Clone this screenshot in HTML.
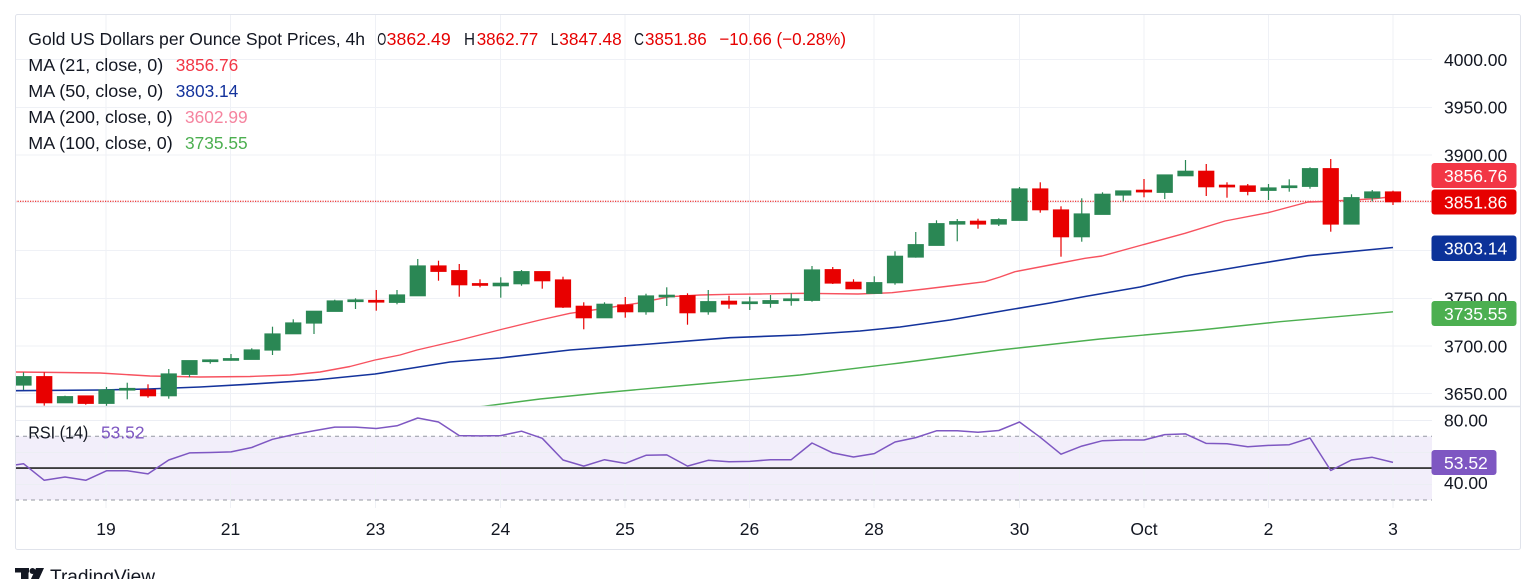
<!DOCTYPE html>
<html><head><meta charset="utf-8"><style>
html,body{margin:0;padding:0;background:#fff;width:1536px;height:579px;overflow:hidden}
svg{display:block}
text{font-family:"Liberation Sans",sans-serif;}
</style></head><body>
<svg xmlns="http://www.w3.org/2000/svg" width="1536" height="579" viewBox="0 0 1536 579">
<rect x="0" y="0" width="1536" height="579" fill="#fff"/>
<!-- horizontal grid main -->
<g stroke="#eff1f6" stroke-width="1">
<line x1="15" y1="59.5" x2="1432" y2="59.5"/><line x1="15" y1="107.5" x2="1432" y2="107.5"/>
<line x1="15" y1="155" x2="1432" y2="155"/><line x1="15" y1="202.5" x2="1432" y2="202.5"/>
<line x1="15" y1="250.5" x2="1432" y2="250.5"/><line x1="15" y1="298.5" x2="1432" y2="298.5"/>
<line x1="15" y1="346" x2="1432" y2="346"/><line x1="15" y1="393.5" x2="1432" y2="393.5"/>
</g>
<!-- RSI band -->
<rect x="15.5" y="436.3" width="1416.5" height="63.7" fill="#f2eefa"/>
<g stroke="#eceef4" stroke-width="1">
<line x1="15" y1="420.5" x2="1432" y2="420.5"/><line x1="15" y1="452.5" x2="1432" y2="452.5"/><line x1="15" y1="484.5" x2="1432" y2="484.5"/>
</g>
<!-- vertical grid -->
<g stroke="#eff1f6" stroke-width="1">
<line x1="106" y1="15" x2="106" y2="508"/><line x1="230.5" y1="15" x2="230.5" y2="508"/>
<line x1="375.5" y1="15" x2="375.5" y2="508"/><line x1="500.5" y1="15" x2="500.5" y2="508"/>
<line x1="625" y1="15" x2="625" y2="508"/><line x1="749.5" y1="15" x2="749.5" y2="508"/>
<line x1="874" y1="15" x2="874" y2="508"/><line x1="1019.5" y1="15" x2="1019.5" y2="508"/>
<line x1="1144" y1="15" x2="1144" y2="508"/><line x1="1268.5" y1="15" x2="1268.5" y2="508"/>
<line x1="1393" y1="15" x2="1393" y2="508"/>
</g>
<!-- RSI dashed / midline -->
<g stroke="#9598a1" stroke-width="1" stroke-dasharray="4 4">
<line x1="15" y1="436.3" x2="1432" y2="436.3"/><line x1="15" y1="500" x2="1432" y2="500"/>
</g>
<line x1="15" y1="468.1" x2="1432" y2="468.1" stroke="#222" stroke-width="1.6"/>
<polyline fill="none" stroke="#7e57c2" stroke-width="1.5" stroke-linejoin="round" points="15,465 23.5,463.7 44.25,480.3 65,477 85.75,480.3 106.5,470.8 127.25,470.8 148,473.9 168.75,460 189.5,452.9 210.25,452.5 231,451.9 251.75,447.5 272.5,439.3 293.25,434.6 314,430.8 334.75,427.1 355.5,427.1 376.25,428.5 397,425.8 417.75,418 438.5,422 459.25,435.6 480,435.9 500.75,435.6 521.5,431.2 542.25,438.3 563,460 583.75,466.1 604.5,459.7 625.25,463.4 646,455.3 666.75,454.9 687.5,466.1 708.25,460.3 729,461.7 749.75,461.4 770.5,459.7 791.25,459.7 812,443 832.75,452.9 853.5,457 874.25,453.6 895,442 915.75,437.6 936.5,430.8 957.25,430.8 978,432.2 998.75,430.5 1019.5,422 1040.25,437.3 1061,454.2 1081.75,446.1 1102.5,440.7 1123.25,440 1144,440 1164.75,434.6 1185.5,433.9 1206.25,443.4 1227,443.7 1247.75,446.8 1268.5,445.4 1289.25,444.7 1310,438 1330.75,470.5 1351.5,460 1372.25,457.3 1393,462.4"/>

<defs><clipPath id="mp"><rect x="15" y="15" width="1417" height="391"/></clipPath></defs>
<g clip-path="url(#mp)">
<!-- close dotted line -->
<line x1="15" y1="201.3" x2="1432" y2="201.3" stroke="#e60000" stroke-width="1" stroke-dasharray="1.2 1.3"/>
<!-- MA100 -->
<polyline fill="none" stroke="#4caf50" stroke-width="1.4" points="478,407 540,399 600,393 700,384 800,375 900,363 1000,350 1100,339 1200,330 1280,321.7 1393,311.8"/>
<!-- MA50 -->
<polyline fill="none" stroke="#14339c" stroke-width="1.6" stroke-linejoin="round" points="15,390.7 100,390 148,389 200,387 248,384.3 315,380 375,374 400,370 450,362 500,358 570,350 650,344 730,337.7 800,335 860,331 900,327 950,320 1008,310 1050,303 1085,296.5 1140,287 1185,276 1250,265 1308,255.7 1393,247.5"/>
<!-- MA21 -->
<polyline fill="none" stroke="#f7525f" stroke-width="1.4" stroke-linejoin="round" points="15,372 60,372.5 100,373 150,376 200,377 250,376.5 290,375 320,372 350,366.5 375,360 400,355 417,350 460,340 503,329 540,320 570,313.3 600,309 637,303.3 670,296.7 700,295 730,294.3 760,294 802,293.3 858,294 892,292.7 925,289 958,285 985,281.7 1000,277 1015,271.7 1050,265 1085,258.3 1102,256 1142,245 1185,233.3 1225,221 1268,212.7 1308,202 1328,201.3 1352,200 1375,198.7 1393,196.5"/>
<!-- green candles -->
<g fill="#2a8754" stroke="#2a8754" stroke-width="1.2">
<line x1="23.5" y1="372.3" x2="23.5" y2="390"/><rect x="16" y="376.7" width="15" height="8.3"/>
<line x1="65" y1="395.7" x2="65" y2="403"/><rect x="57.5" y="396.7" width="15" height="6"/>
<line x1="106.5" y1="387" x2="106.5" y2="406"/><rect x="99" y="390" width="15" height="13.3"/>
<line x1="127.25" y1="382.7" x2="127.25" y2="399.3"/><rect x="119.75" y="388.5" width="15" height="1.5"/>
<line x1="168.75" y1="369" x2="168.75" y2="398.7"/><rect x="161.25" y="374" width="15" height="21.7"/>
<line x1="189.5" y1="360.7" x2="189.5" y2="377.3"/><rect x="182" y="360.7" width="15" height="13.6"/>
<line x1="210.25" y1="359.3" x2="210.25" y2="363.7"/><rect x="202.75" y="360" width="15" height="1.5"/>
<line x1="231" y1="354" x2="231" y2="360.7"/><rect x="223.5" y="358.7" width="15" height="1.5"/>
<line x1="251.75" y1="348.3" x2="251.75" y2="359.3"/><rect x="244.25" y="350" width="15" height="9.3"/>
<line x1="272.5" y1="326.7" x2="272.5" y2="355"/><rect x="265" y="334" width="15" height="16"/>
<line x1="293.25" y1="319.3" x2="293.25" y2="333.7"/><rect x="285.75" y="323" width="15" height="10.7"/>
<line x1="314" y1="311.3" x2="314" y2="334"/><rect x="306.5" y="311.3" width="15" height="11.7"/>
<line x1="334.75" y1="299.7" x2="334.75" y2="311.3"/><rect x="327.25" y="301" width="15" height="10.3"/>
<line x1="355.5" y1="298.3" x2="355.5" y2="309"/><rect x="348" y="300" width="15" height="1.5"/>
<line x1="397" y1="290" x2="397" y2="304.3"/><rect x="389.5" y="295" width="15" height="7.3"/>
<line x1="417.75" y1="259" x2="417.75" y2="295.7"/><rect x="410.25" y="266" width="15" height="29.7"/>
<line x1="500.75" y1="277.3" x2="500.75" y2="297.7"/><rect x="493.25" y="283.3" width="15" height="2.4"/>
<line x1="521.5" y1="270" x2="521.5" y2="285.7"/><rect x="514" y="271.7" width="15" height="12"/>
<line x1="604.5" y1="302.3" x2="604.5" y2="317.7"/><rect x="597" y="304.3" width="15" height="13.4"/>
<line x1="646" y1="293.7" x2="646" y2="314.7"/><rect x="638.5" y="296" width="15" height="15.7"/>
<line x1="666.75" y1="287.3" x2="666.75" y2="306"/><rect x="659.25" y="295.3" width="15" height="1.5"/>
<line x1="708.25" y1="290" x2="708.25" y2="314.7"/><rect x="700.75" y="301.7" width="15" height="10"/>
<line x1="749.75" y1="296.7" x2="749.75" y2="310"/><rect x="742.25" y="302" width="15" height="1.5"/>
<line x1="770.5" y1="295" x2="770.5" y2="307.7"/><rect x="763" y="300.7" width="15" height="2.6"/>
<line x1="791.25" y1="293.3" x2="791.25" y2="305.7"/><rect x="783.75" y="299" width="15" height="1.5"/>
<line x1="812" y1="266" x2="812" y2="301.7"/><rect x="804.5" y="270" width="15" height="30.3"/>
<line x1="874.25" y1="276.3" x2="874.25" y2="294"/><rect x="866.75" y="282.7" width="15" height="10.6"/>
<line x1="895" y1="251.3" x2="895" y2="284.7"/><rect x="887.5" y="256.3" width="15" height="26.4"/>
<line x1="915.75" y1="232" x2="915.75" y2="257.7"/><rect x="908.25" y="244.7" width="15" height="12.3"/>
<line x1="936.5" y1="220.3" x2="936.5" y2="245.3"/><rect x="929" y="223.7" width="15" height="21.6"/>
<line x1="957.25" y1="219" x2="957.25" y2="241.3"/><rect x="949.75" y="221.7" width="15" height="2.3"/>
<line x1="998.75" y1="218.3" x2="998.75" y2="226"/><rect x="991.25" y="219.7" width="15" height="4.3"/>
<line x1="1019.5" y1="187" x2="1019.5" y2="220.3"/><rect x="1012" y="189" width="15" height="31.3"/>
<line x1="1081.75" y1="198.3" x2="1081.75" y2="241.7"/><rect x="1074.25" y="214" width="15" height="22.7"/>
<line x1="1102.5" y1="192.3" x2="1102.5" y2="214.3"/><rect x="1095" y="194.3" width="15" height="20"/>
<line x1="1123.25" y1="191" x2="1123.25" y2="201.3"/><rect x="1115.75" y="191" width="15" height="4"/>
<line x1="1164.75" y1="175" x2="1164.75" y2="199"/><rect x="1157.25" y="175" width="15" height="17.3"/>
<line x1="1185.5" y1="160" x2="1185.5" y2="175.7"/><rect x="1178" y="171.3" width="15" height="4.4"/>
<line x1="1268.5" y1="184" x2="1268.5" y2="200"/><rect x="1261" y="188" width="15" height="2.3"/>
<line x1="1289.25" y1="179.3" x2="1289.25" y2="191.7"/><rect x="1281.75" y="186" width="15" height="1.5"/>
<line x1="1310" y1="167.3" x2="1310" y2="188.7"/><rect x="1302.5" y="168.7" width="15" height="17.6"/>
<line x1="1351.5" y1="194.3" x2="1351.5" y2="224"/><rect x="1344" y="197.7" width="15" height="26.3"/>
<line x1="1372.25" y1="190" x2="1372.25" y2="201.3"/><rect x="1364.75" y="192" width="15" height="5.7"/>
</g>
<!-- red candles -->
<g fill="#e80000" stroke="#e80000" stroke-width="1.2">
<line x1="44.25" y1="372.3" x2="44.25" y2="405.7"/><rect x="36.75" y="376.7" width="15" height="26"/>
<line x1="85.75" y1="396" x2="85.75" y2="404.7"/><rect x="78.25" y="396" width="15" height="7.3"/>
<line x1="148" y1="384.3" x2="148" y2="397.7"/><rect x="140.5" y="390" width="15" height="5.7"/>
<line x1="376.25" y1="290" x2="376.25" y2="310.7"/><rect x="368.75" y="300.5" width="15" height="1.5"/>
<line x1="438.5" y1="260.7" x2="438.5" y2="280.7"/><rect x="431" y="266" width="15" height="5.3"/>
<line x1="459.25" y1="264" x2="459.25" y2="296.7"/><rect x="451.75" y="270.7" width="15" height="14"/>
<line x1="480" y1="279.3" x2="480" y2="287.3"/><rect x="472.5" y="283.7" width="15" height="1.5"/>
<line x1="542.25" y1="271.7" x2="542.25" y2="288.7"/><rect x="534.75" y="271.7" width="15" height="9"/>
<line x1="563" y1="276.7" x2="563" y2="308"/><rect x="555.5" y="280" width="15" height="27"/>
<line x1="583.75" y1="302.3" x2="583.75" y2="329.3"/><rect x="576.25" y="306.3" width="15" height="11.4"/>
<line x1="625.25" y1="297" x2="625.25" y2="317.7"/><rect x="617.75" y="305" width="15" height="6.7"/>
<line x1="687.5" y1="293.3" x2="687.5" y2="324.7"/><rect x="680" y="295.7" width="15" height="17"/>
<line x1="729" y1="295.7" x2="729" y2="308.7"/><rect x="721.5" y="301.3" width="15" height="2.7"/>
<line x1="832.75" y1="267" x2="832.75" y2="284"/><rect x="825.25" y="269.7" width="15" height="13.3"/>
<line x1="853.5" y1="279.3" x2="853.5" y2="288.7"/><rect x="846" y="282.3" width="15" height="6.4"/>
<line x1="978" y1="218.7" x2="978" y2="228.7"/><rect x="970.5" y="221.3" width="15" height="2.7"/>
<line x1="1040.25" y1="182.3" x2="1040.25" y2="212.7"/><rect x="1032.75" y="189" width="15" height="20.7"/>
<line x1="1061" y1="206.3" x2="1061" y2="256.7"/><rect x="1053.5" y="210" width="15" height="26.7"/>
<line x1="1144" y1="179" x2="1144" y2="197.3"/><rect x="1136.5" y="190.3" width="15" height="1.5"/>
<line x1="1206.25" y1="164" x2="1206.25" y2="196"/><rect x="1198.75" y="171.3" width="15" height="15.4"/>
<line x1="1227" y1="182.3" x2="1227" y2="197.7"/><rect x="1219.5" y="185.3" width="15" height="1.5"/>
<line x1="1247.75" y1="184" x2="1247.75" y2="195.3"/><rect x="1240.25" y="186" width="15" height="5.3"/>
<line x1="1330.75" y1="159" x2="1330.75" y2="231.7"/><rect x="1323.25" y="168.7" width="15" height="55.3"/>
<line x1="1393" y1="190.7" x2="1393" y2="205"/><rect x="1385.5" y="192" width="15" height="9.7"/>
</g>
</g>

<!-- pane divider & frame -->
<line x1="15" y1="406.5" x2="1520" y2="406.5" stroke="#e0e3eb" stroke-width="1.5"/>
<rect x="15.5" y="14.5" width="1505" height="535" rx="2" fill="none" stroke="#e0e3eb" stroke-width="1"/>

<!-- legend -->
<g font-size="17.5" fill="#131722">
<text x="28.3" y="45" textLength="336.7" lengthAdjust="spacingAndGlyphs">Gold US Dollars per Ounce Spot Prices, 4h</text>
<text x="377.3" y="45" textLength="9" lengthAdjust="spacingAndGlyphs">O</text><text x="386.7" y="45" fill="#e60000" textLength="64" lengthAdjust="spacingAndGlyphs">3862.49</text>
<text x="464" y="45" textLength="11" lengthAdjust="spacingAndGlyphs">H</text><text x="476.7" y="45" fill="#e60000" textLength="61.6" lengthAdjust="spacingAndGlyphs">3862.77</text>
<text x="550.7" y="45" textLength="7.5" lengthAdjust="spacingAndGlyphs">L</text><text x="559.3" y="45" fill="#e60000" textLength="62.4" lengthAdjust="spacingAndGlyphs">3847.48</text>
<text x="634" y="45" textLength="10" lengthAdjust="spacingAndGlyphs">C</text><text x="645" y="45" fill="#e60000" textLength="61.7" lengthAdjust="spacingAndGlyphs">3851.86</text>
<text x="719.3" y="45" fill="#e60000" textLength="126.7" lengthAdjust="spacingAndGlyphs">−10.66 (−0.28%)</text>
<text x="28.3" y="71" textLength="135" lengthAdjust="spacingAndGlyphs">MA (21, close, 0)</text>
<text x="175.7" y="71" fill="#f23645" textLength="62.6" lengthAdjust="spacingAndGlyphs">3856.76</text>
<text x="28.3" y="97" textLength="135" lengthAdjust="spacingAndGlyphs">MA (50, close, 0)</text>
<text x="175.7" y="97" fill="#14339c" textLength="62.6" lengthAdjust="spacingAndGlyphs">3803.14</text>
<text x="28.3" y="123" textLength="144.4" lengthAdjust="spacingAndGlyphs">MA (200, close, 0)</text>
<text x="185" y="123" fill="#f5849f" textLength="62.6" lengthAdjust="spacingAndGlyphs">3602.99</text>
<text x="28.3" y="149" textLength="144.4" lengthAdjust="spacingAndGlyphs">MA (100, close, 0)</text>
<text x="185" y="149" fill="#4caf50" textLength="62.6" lengthAdjust="spacingAndGlyphs">3735.55</text>
<text x="28.3" y="438.5" textLength="60" lengthAdjust="spacingAndGlyphs">RSI (14)</text>
<text x="101" y="438.5" fill="#7e57c2" textLength="43.5" lengthAdjust="spacingAndGlyphs">53.52</text>
</g>

<!-- price axis labels -->
<g font-size="17.5" fill="#131722">
<text x="1444" y="66">4000.00</text>
<text x="1444" y="113.5">3950.00</text>
<text x="1444" y="161.3">3900.00</text>
<text x="1444" y="304.5">3750.00</text>
<text x="1444" y="352.3">3700.00</text>
<text x="1444" y="400">3650.00</text>
<text x="1444" y="426.5">80.00</text>
<text x="1444" y="489">40.00</text>
</g>
<!-- value boxes -->
<rect x="1431.5" y="163" width="85" height="25" rx="3" fill="#f23645"/>
<rect x="1431.5" y="189.5" width="85" height="25" rx="3" fill="#e60000"/>
<rect x="1431.5" y="235.5" width="85" height="25.5" rx="3" fill="#0c3299"/>
<rect x="1431.5" y="301" width="85" height="25" rx="3" fill="#4caf50"/>
<rect x="1431.5" y="450" width="65" height="25" rx="3" fill="#7e57c2"/>
<g font-size="17.5" fill="#fff">
<text x="1444" y="182">3856.76</text>
<text x="1444" y="208.5">3851.86</text>
<text x="1444" y="254.5">3803.14</text>
<text x="1444" y="320">3735.55</text>
<text x="1444" y="469">53.52</text>
</g>

<!-- time axis -->
<g font-size="17.5" fill="#131722" text-anchor="middle">
<text x="106" y="535">19</text><text x="230.5" y="535">21</text><text x="375.5" y="535">23</text>
<text x="500.5" y="535">24</text><text x="625" y="535">25</text><text x="749.5" y="535">26</text>
<text x="874" y="535">28</text><text x="1019.5" y="535">30</text><text x="1144" y="535">Oct</text>
<text x="1268.5" y="535">2</text><text x="1393" y="535">3</text>
</g>

<!-- TradingView logo -->
<g fill="#131722">
<rect x="15" y="568" width="14" height="4.5"/>
<rect x="21" y="568" width="7.5" height="12"/>
<circle cx="32.5" cy="571" r="3"/>
<polygon points="36,568 44,568 38.5,580 30.5,580"/>
<text x="50" y="583" font-size="19" textLength="105" lengthAdjust="spacingAndGlyphs">TradingView</text>
</g>
</svg>
</body></html>
